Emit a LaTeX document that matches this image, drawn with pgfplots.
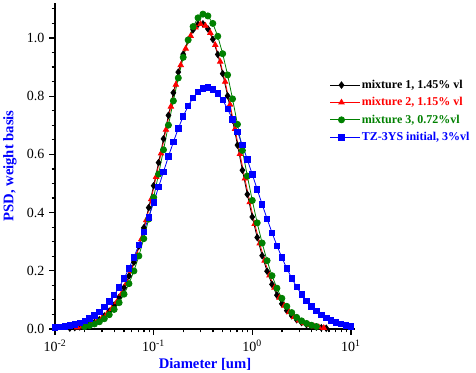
\documentclass[border=0pt]{standalone}
\usepackage{pgfplots}
\pgfplotsset{compat=1.18}
\usepackage{fontspec}
\setmainfont{Liberation Serif}
\definecolor{mgreen}{RGB}{0,128,0}
\definecolor{mblue}{RGB}{0,0,255}
\definecolor{mred}{RGB}{255,0,0}
\begin{document}
\begin{tikzpicture}
\useasboundingbox (-41.25pt,-33pt) rectangle (315.75pt,246.75pt);
\begin{axis}[
  scale only axis, width=225pt, height=244.5pt,
  xmode=log, xmin=0.01, xmax=11, ymin=0, ymax=1.12,
  axis x line=bottom, axis y line=left,
  axis line style={-, line width=1.5pt},
  tick align=outside,
  major tick length=4.5pt, minor tick length=2.5pt,
  every tick/.style={black, line width=0.9pt},
  xtick={0.01,0.1,1,10},
  xticklabels={10\textsuperscript{-2},10\textsuperscript{-1},10\textsuperscript{0},10\textsuperscript{1}},
  ytick={0,0.2,0.4,0.6,0.8,1.0},
  minor ytick={0.05,0.1,0.15,0.25,0.3,0.35,0.45,0.5,0.55,0.65,0.7,0.75,0.85,0.9,0.95,1.05,1.1},
  yticklabel style={/pgf/number format/.cd, fixed, fixed zerofill, precision=1, assume math mode=true},
  tick label style={font=\fontsize{10.5}{12}\selectfont},
  xlabel={\textbf{Diameter [um]}},
  ylabel={\textbf{PSD, weight basis}},
  label style={font=\fontsize{11}{13}\selectfont, text=mblue},
  xlabel style={at={(axis description cs:0.5,-0.109)}, anchor=center},
  ylabel style={at={(axis description cs:-0.15,0.5)}, anchor=center},
  clip=false,
  legend style={at={(0.915,0.769)}, anchor=north west, draw=none, fill=none,
    font=\fontsize{9}{10}\selectfont\bfseries, row sep=3.3pt, inner sep=0pt,
    nodes={inner sep=1pt},
    legend cell align=left},
  legend image code/.code={\path (0pt,0pt) -- (22.5pt,0pt);
     \draw[#1, mark=none] (0pt,0pt) -- (17pt,0pt);
     \draw[#1, only marks] plot coordinates {(8.5pt,0pt)};},
]
\addplot[black, line width=0.6pt, mark=diamond*, mark size=2.4pt, mark options={solid}] coordinates {
(0.01413,0.0031) (0.01585,0.0048) (0.01778,0.0073) (0.01995,0.0108) (0.02239,0.0158)
(0.02512,0.0227) (0.02818,0.0321) (0.03162,0.0447) (0.03548,0.0612) (0.03981,0.0823)
(0.04467,0.1090) (0.05012,0.1421) (0.05623,0.1821) (0.06310,0.2296) (0.07079,0.2848)
(0.07943,0.3474) (0.08913,0.4170) (0.1,0.4923) (0.1122,0.5718) (0.1259,0.6532)
(0.1413,0.7340) (0.1585,0.8115) (0.1778,0.8824) (0.1995,0.9439) (0.2239,0.9932)
(0.2512,1.0281) (0.2818,1.0469) (0.3162,1.0484) (0.3548,1.0311) (0.3981,0.9953)
(0.4467,0.9432) (0.5012,0.8773) (0.5623,0.8011) (0.6310,0.7180) (0.7079,0.6317)
(0.7943,0.5456) (0.8913,0.4625) (1,0.3848) (1.122,0.3144) (1.259,0.2520)
(1.413,0.1984) (1.585,0.1533) (1.778,0.1163) (1.995,0.0866) (2.239,0.0632)
(2.512,0.0454) (2.818,0.0320) (3.162,0.0221) (3.548,0.0150) (3.981,0.0100)
(4.467,0.0065) (5.012,0.0042) (5.623,0.0026)
};
\addlegendentry{mixture 1, 1.45\% vl}
\addplot[mred, line width=0.6pt, mark=triangle*, mark size=2.3pt, mark options={solid}] coordinates {
(0.016788,0.0057) (0.018836,0.0085) (0.021135,0.0126) (0.023714,0.0183) (0.026607,0.0261)
(0.029854,0.0367) (0.033497,0.0506) (0.037584,0.0689) (0.04217,0.0922) (0.047315,0.1213)
(0.053088,0.1570) (0.059566,0.1998) (0.066834,0.2503) (0.074989,0.3084) (0.08414,0.3738)
(0.094406,0.4457) (0.10593,0.5227) (0.11885,0.6031) (0.13335,0.6845) (0.14962,0.7641)
(0.16788,0.8392) (0.18836,0.9065) (0.21135,0.9634) (0.23714,1.0071) (0.26607,1.0357)
(0.29854,1.0477) (0.33497,1.0419) (0.37584,1.0174) (0.4217,0.9756) (0.47315,0.9185)
(0.53088,0.8492) (0.59566,0.7708) (0.66834,0.6871) (0.74989,0.6013) (0.8414,0.5168)
(0.94406,0.4360) (1.0593,0.3613) (1.1885,0.2939) (1.3335,0.2348) (1.4962,0.1841)
(1.6788,0.1418) (1.8836,0.1073) (2.1135,0.0797) (2.3714,0.0581) (2.6607,0.0416)
(2.9854,0.0292) (3.3497,0.0202) (3.7584,0.0137) (4.217,0.0091) (4.7315,0.0059)
(5.3088,0.0038)
};
\addlegendentry{\textcolor{mred}{mixture 2, 1.15\% vl}}
\addplot[mgreen, line width=0.6pt, mark=*, mark size=2.3pt, mark options={solid}] coordinates {
(0.01995,0.0080) (0.02239,0.0118) (0.02512,0.0173) (0.02818,0.0249) (0.03162,0.0353)
(0.03548,0.0491) (0.03981,0.0672) (0.04467,0.0904) (0.05012,0.1197) (0.05623,0.1558)
(0.06310,0.1993) (0.07079,0.2508) (0.07943,0.3103) (0.08913,0.3778) (0.1,0.4520)
(0.1122,0.5319) (0.1259,0.6155) (0.1413,0.7004) (0.1585,0.7837) (0.1778,0.8624)
(0.1995,0.9332) (0.2239,0.9929) (0.2512,1.0389) (0.2818,1.0690) (0.3162,1.0817)
(0.3548,1.0756) (0.3981,1.0498) (0.4467,1.0057) (0.5012,0.9457) (0.5623,0.8728)
(0.6310,0.7905) (0.7079,0.7030) (0.7943,0.6134) (0.8913,0.5254) (1,0.4417)
(1.122,0.3645) (1.259,0.2952) (1.413,0.2347) (1.585,0.1831) (1.778,0.1402)
(1.995,0.1054) (2.239,0.0778) (2.512,0.0563) (2.818,0.0400) (3.162,0.0279)
(3.548,0.0191) (3.981,0.0129) (4.467,0.0085)
};
\addlegendentry{\textcolor{mgreen}{mixture 3, 0.72\%vl}}
\addplot[mblue, line width=0.6pt, mark=square*, mark size=2pt, mark options={solid}] coordinates {
(0.01,0.0050) (0.01122,0.0070) (0.01259,0.0090) (0.01413,0.0120) (0.01585,0.0160)
(0.01778,0.0210) (0.01995,0.0280) (0.02239,0.0359) (0.02512,0.0465) (0.02818,0.0596)
(0.03162,0.0754) (0.03548,0.0945) (0.03981,0.1170) (0.04467,0.1433) (0.05012,0.1736)
(0.05623,0.2080) (0.06310,0.2465) (0.07079,0.2888) (0.07943,0.3347) (0.08913,0.3836)
(0.1,0.4348) (0.1122,0.4874) (0.1259,0.5403) (0.1413,0.5924) (0.1585,0.6424)
(0.1778,0.6888) (0.1995,0.7305) (0.2239,0.7662) (0.2512,0.7947) (0.2818,0.8152)
(0.3162,0.8271) (0.3548,0.8298) (0.3981,0.8237) (0.4467,0.8091) (0.5012,0.7864)
(0.5623,0.7563) (0.6310,0.7197) (0.7079,0.6777) (0.7943,0.6315) (0.8913,0.5822)
(1,0.5311) (1.122,0.4795) (1.259,0.4283) (1.413,0.3786) (1.585,0.3311)
(1.778,0.2865) (1.995,0.2454) (2.239,0.2080) (2.512,0.1743) (2.818,0.1447)
(3.162,0.1188) (3.548,0.0965) (3.981,0.0775) (4.467,0.0617) (5.012,0.0486)
(5.623,0.0378) (6.310,0.0291) (7.079,0.0222) (7.943,0.0168) (8.913,0.0125)
(10,0.0092)
};
\addlegendentry{\textcolor{mblue}{TZ-3YS initial, 3\%vl}}
\end{axis}
\end{tikzpicture}
\end{document}
